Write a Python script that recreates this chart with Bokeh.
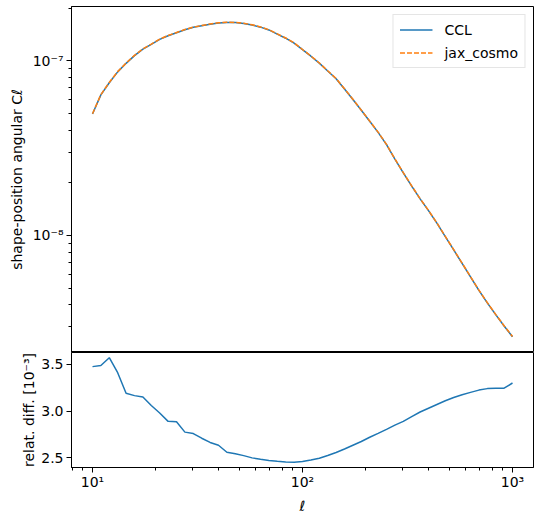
import numpy as np
from bokeh.plotting import figure
from bokeh.layouts import column
from bokeh.models import Range1d, FixedTicker, CustomJSTickFormatter
from bokeh.embed import file_html
from bokeh.resources import INLINE

# ---------------- data ----------------
ell = [10.0, 10.96, 12.02, 13.18, 14.45, 15.85, 17.38, 19.05, 20.89, 22.91,
       25.12, 27.54, 30.2, 33.11, 36.31, 39.81, 43.65, 47.86, 52.48, 57.54,
       63.1, 69.18, 75.86, 83.18, 91.2, 100.0, 109.65, 120.23, 131.83, 144.54,
       158.49, 173.78, 190.55, 208.93, 229.09, 251.19, 275.42, 301.99, 331.13, 363.08,
       398.11, 436.52, 478.63, 524.81, 575.44, 630.96, 691.83, 758.58, 831.76, 912.01,
       1000.0]

# CCL shape-position C_ell in units of 1e-8
cl_ccl_e8 = [4.95, 6.37, 7.48, 8.63, 9.66, 10.69, 11.66, 12.41, 13.24, 13.90,
             14.45, 15.03, 15.52, 15.85, 16.18, 16.44, 16.56, 16.52, 16.33, 16.00,
             15.56, 15.00, 14.20, 13.45, 12.62, 11.56, 10.61, 9.68, 8.73, 7.89,
             6.89, 6.00, 5.20, 4.50, 3.89, 3.31, 2.735, 2.28, 1.914, 1.618,
             1.387, 1.175, 0.984, 0.826, 0.692, 0.579, 0.485, 0.411, 0.352, 0.303,
             0.263]

# relative difference in units of 1e-3
rel_diff_e3 = [3.475, 3.487, 3.57, 3.41, 3.19, 3.165, 3.15, 3.06, 2.98, 2.89,
               2.886, 2.775, 2.76, 2.71, 2.665, 2.635, 2.56, 2.545, 2.524, 2.50,
               2.485, 2.472, 2.463, 2.455, 2.453, 2.462, 2.478, 2.496, 2.525, 2.558,
               2.595, 2.635, 2.675, 2.72, 2.762, 2.805, 2.85, 2.89, 2.94, 2.99,
               3.03, 3.07, 3.11, 3.145, 3.175, 3.20, 3.224, 3.24, 3.245, 3.245,
               3.30]

series_labels = ["CCL", "jax_cosmo"]
x_label = "ℓ"
y_label_top = "shape-position angular Cℓ"
y_label_bottom = "relat. diff. [10⁻³]"

x_major = [10, 100, 1000]
x_minor = [8, 9, 20, 30, 40, 50, 60, 70, 80, 90,
           200, 300, 400, 500, 600, 700, 800, 900]
y_top_major = [1e-8, 1e-7]
y_top_minor = [2e-9, 3e-9, 4e-9, 5e-9, 6e-9, 7e-9, 8e-9, 9e-9,
               2e-8, 3e-8, 4e-8, 5e-8, 6e-8, 7e-8, 8e-8, 9e-8, 2e-7]
y_bot_major = [2.5, 3.0, 3.5]

# ---------------- derived ----------------
ell_a = np.array(ell)
ccl = np.array(cl_ccl_e8) * 1e-8
rel = np.array(rel_diff_e3)
jax = ccl * (1.0 + rel * 1e-3)

FONT = "DejaVu Sans"
BLUE = "#1f77b4"
ORANGE = "#ff7f0e"

lx0, lx1 = np.log10(ell_a.min()), np.log10(ell_a.max())
px = 0.05 * (lx1 - lx0)
x_range = Range1d(10 ** (lx0 - px), 10 ** (lx1 + px))

allc = np.concatenate([ccl, jax])
ly0, ly1 = np.log10(allc.min()), np.log10(allc.max())
py = 0.05 * (ly1 - ly0)
y_top_range = Range1d(10 ** (ly0 - py), 10 ** (ly1 + py))

r0, r1 = rel.min(), rel.max()
pr = 0.05 * (r1 - r0)
y_bot_range = Range1d(r0 - pr, r1 + pr)

sup_js = """
const sup = {"-":"\u207b","0":"\u2070","1":"\u00b9","2":"\u00b2","3":"\u00b3",
             "4":"\u2074","5":"\u2075","6":"\u2076","7":"\u2077","8":"\u2078","9":"\u2079"};
const e = Math.round(Math.log10(tick));
return "10" + String(e).split("").map(c => sup[c]).join("");
"""


def style_axis(ax, label_standoff=3, axis_label_standoff=6):
    ax.axis_line_color = "black"
    ax.axis_line_width = 1
    ax.major_tick_line_color = "black"
    ax.minor_tick_line_color = "black"
    ax.major_tick_in = 0
    ax.major_tick_out = 5
    ax.minor_tick_in = 0
    ax.minor_tick_out = 3
    ax.major_label_text_font = FONT
    ax.major_label_text_font_size = "14px"
    ax.major_label_text_color = "black"
    ax.axis_label_text_font = FONT
    ax.axis_label_text_font_size = "14px"
    ax.axis_label_text_font_style = "normal"
    ax.axis_label_text_color = "black"
    ax.major_label_standoff = label_standoff
    ax.axis_label_standoff = axis_label_standoff


BL = 71
FW = 462
BR = 2
W = BL + FW + BR
H_TOP = 352
H_BOT = 167

# ---------------- top panel ----------------
p1 = figure(width=W, height=H_TOP,
            x_axis_type="log", y_axis_type="log",
            x_range=x_range, y_range=y_top_range,
            x_axis_location=None,
            output_backend="svg", toolbar_location=None,
            min_border_left=BL, min_border_right=BR,
            min_border_top=6, min_border_bottom=0)
p1.grid.visible = False
p1.outline_line_color = "black"
p1.outline_line_width = 1
p1.outline_line_alpha = 1
p1.background_fill_color = "white"
p1.border_fill_color = "white"

p1.line(ell_a, ccl, line_color=BLUE, line_width=1.5, legend_label=series_labels[0])
p1.line(ell_a, jax, line_color=ORANGE, line_width=1.5, line_dash="5 2",
        legend_label=series_labels[1])

yax = p1.yaxis[0]
yax.ticker = FixedTicker(ticks=y_top_major, minor_ticks=y_top_minor)
yax.formatter = CustomJSTickFormatter(code=sup_js)
yax.axis_label = y_label_top
style_axis(yax, label_standoff=3, axis_label_standoff=5)

leg = p1.legend[0]
leg.location = "top_right"
leg.margin = 8
leg.padding = 6
leg.spacing = 6
leg.glyph_width = 33
leg.glyph_height = 17
leg.label_height = 17
leg.label_standoff = 12
leg.label_text_font = FONT
leg.label_text_font_size = "14px"
leg.label_text_color = "black"
leg.border_line_color = "#cccccc"
leg.border_line_width = 1
leg.background_fill_alpha = 0.8

# ---------------- bottom panel ----------------
p2 = figure(width=W, height=H_BOT,
            x_axis_type="log",
            x_range=x_range, y_range=y_bot_range,
            output_backend="svg", toolbar_location=None,
            min_border_left=BL, min_border_right=BR,
            min_border_top=0, min_border_bottom=52)
p2.grid.visible = False
p2.outline_line_color = "black"
p2.outline_line_width = 1
p2.outline_line_alpha = 1
p2.background_fill_color = "white"
p2.border_fill_color = "white"

p2.line(ell_a, rel, line_color=BLUE, line_width=1.5)

xax = p2.xaxis[0]
xax.ticker = FixedTicker(ticks=x_major, minor_ticks=x_minor)
xax.formatter = CustomJSTickFormatter(code=sup_js)
xax.axis_label = x_label
style_axis(xax, label_standoff=1, axis_label_standoff=5)
xax.axis_label_text_font_style = "italic"

yax2 = p2.yaxis[0]
yax2.ticker = FixedTicker(ticks=y_bot_major, minor_ticks=[])
yax2.formatter = CustomJSTickFormatter(code="return tick.toFixed(1);")
yax2.axis_label = y_label_bottom
style_axis(yax2, label_standoff=3, axis_label_standoff=1)

layout = column(p1, p2, spacing=0)

open("out.html", "w").write(file_html(layout, INLINE))
